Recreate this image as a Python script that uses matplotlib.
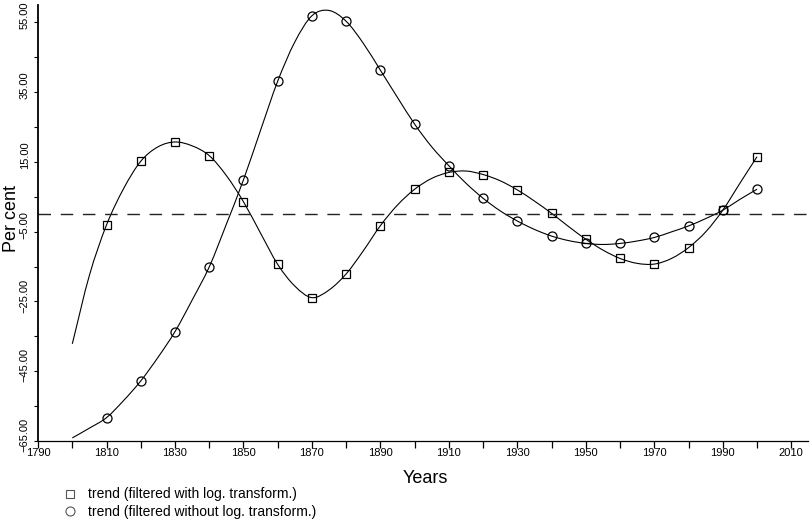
import numpy as np
import matplotlib
matplotlib.use("Agg")
from matplotlib import pyplot as plt
from matplotlib.lines import Line2D
from matplotlib.path import Path
from matplotlib.patches import PathPatch
from matplotlib.ticker import FixedLocator, FuncFormatter
import matplotlib.transforms as mtransforms

plt.rcParams['font.family'] = ['Liberation Sans', 'DejaVu Sans']

# trend curves, every 5 years from 1800 to 2000 (per cent)
years = list(range(1800, 2001, 5))
trend_log = [-37.1, -17.5, -3.1, 7.3, 15.1, 19.2, 20.6, 19.5, 16.7, 11.0,
             3.5, -5.5, -14.4, -20.6, -23.9, -21.7, -17.1, -10.5, -3.3, 2.6,
             7.1, 10.2, 11.9, 12.3, 11.3, 9.5, 6.9, 3.7, 0.2, -3.6,
             -7.2, -10.3, -12.7, -14.1, -14.3, -12.7, -9.6, -5.1, 1.1, 8.8,
             16.4]
trend_raw = [-64.0, -61.2, -58.2, -53.3, -47.7, -41.0, -33.6, -24.6, -15.1, -2.9,
             9.8, 24.0, 38.0, 49.2, 56.7, 58.2, 55.1, 48.8, 41.1, 33.3,
             25.7, 19.2, 13.8, 8.8, 4.5, 0.9, -2.0, -4.4, -6.3, -7.6,
             -8.4, -8.7, -8.4, -7.7, -6.7, -5.1, -3.4, -1.3, 1.1, 4.2,
             7.1]

# filtered values are marked once a decade, 1810-2000
mark_years = years[2::2]
mark_log = trend_log[2::2]
mark_raw = trend_raw[2::2]

ytick_vals = [-65, -45, -25, -5, 15, 35, 55]
xtick_vals = list(range(1790, 2011, 20))


def smooth_path(x, y):
    # catmull-rom through the points, written as cubic bezier segments
    x = np.asarray(x, float)
    y = np.asarray(y, float)
    pts = np.column_stack([x, y])
    ext = np.vstack([2 * pts[0] - pts[1], pts, 2 * pts[-1] - pts[-2]])
    verts = [pts[0]]
    codes = [Path.MOVETO]
    for i in range(1, len(ext) - 2):
        p0, p1, p2, p3 = ext[i - 1], ext[i], ext[i + 1], ext[i + 2]
        verts += [p1 + (p2 - p0) / 6, p2 - (p3 - p1) / 6, p2]
        codes += [Path.CURVE4] * 3
    return Path(verts, codes)


fig = plt.figure(figsize=(8.1, 5.23), dpi=100)
ax = fig.add_axes([0.047, 0.156, 0.951, 0.834])

for series in (trend_log, trend_raw):
    ax.add_patch(PathPatch(smooth_path(years, series), fc='none',
                           ec='black', lw=0.8))
ax.plot(mark_years, mark_log, ls='none', marker='s', ms=6, mew=0.9,
        mfc='none', mec='black')
ax.plot(mark_years, mark_raw, ls='none', marker='o', ms=6.5, mew=0.9,
        mfc='none', mec='black')

ax.axhline(0, color='#222222', lw=1.0, ls=(0, (9, 7)))

ax.set_xlim(1790, 2015)
ax.set_ylim(-65, 59.7)

for s in ['top', 'right']:
    ax.spines[s].set_visible(False)
ax.spines['left'].set_linewidth(1.3)
ax.spines['bottom'].set_linewidth(0.9)

narrow = ['Liberation Sans Narrow', 'Liberation Sans', 'DejaVu Sans']
ax.xaxis.set_major_locator(FixedLocator(xtick_vals))
ax.xaxis.set_minor_locator(FixedLocator(list(range(1800, 2011, 20))))
ax.yaxis.set_major_locator(FixedLocator(ytick_vals))
ax.yaxis.set_minor_locator(FixedLocator(list(range(-55, 56, 20))))
ax.yaxis.set_major_formatter(FuncFormatter(lambda v, p: ('%.2f' % v).replace('-', '\u2212')))

ax.tick_params(axis='x', which='both', direction='out', length=5, width=0.9,
               labelsize=8, pad=0)
ax.tick_params(axis='y', which='both', direction='out', length=3, width=0.8,
               labelsize=8, pad=3)
up = mtransforms.ScaledTranslation(0, 6 / 100, fig.dpi_scale_trans)
for lab in ax.get_xticklabels():
    lab.set_family(narrow)
for lab in ax.get_yticklabels():
    lab.set_family(narrow)
    lab.set_rotation(90)
    lab.set_va('center')
    lab.set_transform(lab.get_transform() + up)

ax.set_xlabel('Years', fontsize=13)
ax.xaxis.set_label_coords(0.503, -0.066)
ax.set_ylabel('Per cent', fontsize=13)
ax.yaxis.set_label_coords(-0.024, 0.51)

handles = [
    Line2D([], [], ls='none', marker='s', ms=6, mew=0.8, mfc='none', mec='#555555'),
    Line2D([], [], ls='none', marker='o', ms=6.5, mew=0.8, mfc='none', mec='#555555'),
]
labels = ['trend (filtered with log. transform.)',
          'trend (filtered without log. transform.)']
fig.legend(handles, labels, loc='upper left', bbox_to_anchor=(0.078, 0.068),
           frameon=False, fontsize=10, handlelength=1.0, handletextpad=0.8,
           labelspacing=0.25, borderpad=0, borderaxespad=0)

fig.savefig('out.png', dpi=100)
